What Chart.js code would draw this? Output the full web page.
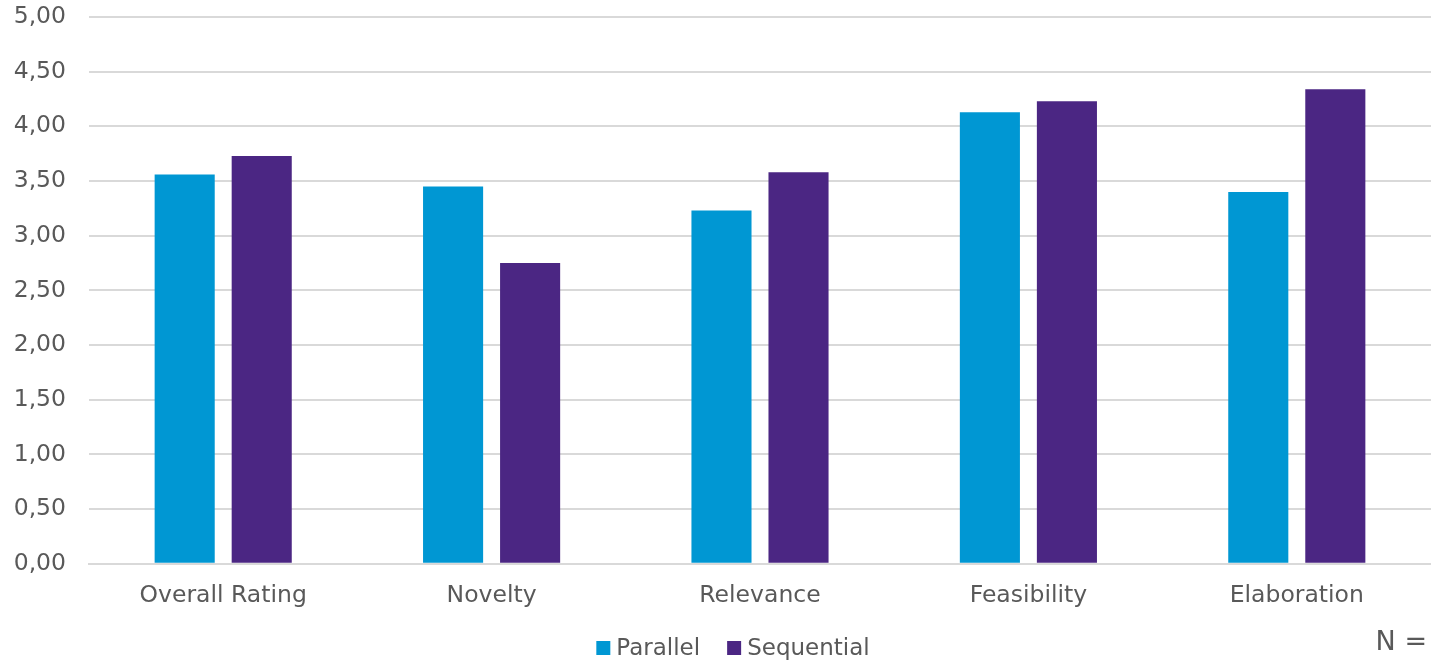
<!DOCTYPE html>
<html>
<head>
<meta charset="utf-8">
<script src="https://cdn.jsdelivr.net/npm/chart.js@4/dist/chart.umd.min.js"></script>
<style>
  html, body { margin: 0; padding: 0; background: #fff; }
  #wrap { width: 1431px; height: 661px; }
</style>
</head>
<body>
<div id="wrap"><canvas id="c" width="1431" height="661"></canvas></div>
<script>
const categories = ['Overall Rating', 'Novelty', 'Relevance', 'Feasibility', 'Elaboration'];
const parallelValues = [3.56, 3.45, 3.23, 4.13, 3.40];
const sequentialValues = [3.73, 2.75, 3.58, 4.23, 4.34];
const seriesNames = ['Parallel', 'Sequential'];
const seriesColors = ['#0097D3', '#4B2683'];
const footnote = 'N =';

const TEXT = '#595959';
const FONT = "'DejaVu Sans', Verdana, sans-serif";
const LABEL_SIZE = 23.5;

// Legend row under the axis labels plus the sample-size note at the right
const bottomNotes = {
  id: 'bottomNotes',
  afterDraw(chart) {
    const ctx = chart.ctx;
    ctx.save();
    ctx.font = '23px ' + FONT;
    ctx.textBaseline = 'middle';
    ctx.textAlign = 'left';
    const box = 14, gapText = 6, gapItem = 27, y = 648;
    const widths = chart.data.datasets.map(d => ctx.measureText(d.label).width);
    let total = 0;
    widths.forEach((w, i) => { total += box + gapText + w + (i ? gapItem : 0); });
    let x = 733 - total / 2;
    chart.data.datasets.forEach((d, i) => {
      ctx.fillStyle = d.backgroundColor;
      ctx.fillRect(x, y - box / 2, box, box);
      ctx.fillStyle = TEXT;
      ctx.fillText(d.label, x + box + gapText, y + 1);
      x += box + gapText + widths[i] + gapItem;
    });
    ctx.font = '27px ' + FONT;
    ctx.textAlign = 'right';
    ctx.fillText(footnote, chart.width - 4, 643);
    ctx.restore();
  }
};

new Chart(document.getElementById('c'), {
  type: 'bar',
  data: {
    labels: categories,
    datasets: [
      { label: seriesNames[0], data: parallelValues, backgroundColor: seriesColors[0] },
      { label: seriesNames[1], data: sequentialValues, backgroundColor: seriesColors[1] }
    ]
  },
  options: {
    responsive: false,
    animation: false,
    devicePixelRatio: 1,
    layout: { padding: { top: 0, left: 0, right: 0, bottom: 33 } },
    categoryPercentage: 0.574,
    barPercentage: 0.78,
    scales: {
      x: {
        grid: { display: false, drawTicks: false },
        border: { color: '#d9d9d9', width: 2 },
        ticks: { color: TEXT, font: { size: LABEL_SIZE, family: FONT }, padding: 18 }
      },
      y: {
        min: 0,
        max: 5,
        afterFit(scale) {
          scale.width = 89;
          scale.paddingTop = 17;
          scale.paddingBottom = 0;
        },
        grid: { color: '#d9d9d9', lineWidth: 2, drawTicks: false },
        border: { display: false },
        ticks: {
          stepSize: 0.5,
          color: TEXT,
          padding: 23,
          font: { size: LABEL_SIZE, family: FONT },
          callback: v => v.toFixed(2).replace('.', ',')
        }
      }
    },
    plugins: {
      tooltip: { enabled: false },
      legend: { display: false }
    }
  },
  plugins: [bottomNotes]
});
</script>
</body>
</html>
